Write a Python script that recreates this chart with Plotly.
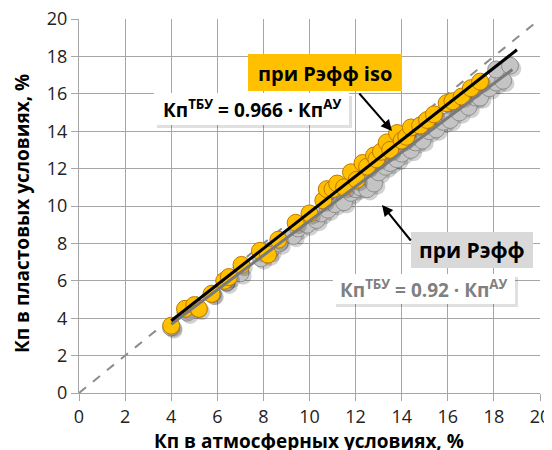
import plotly.graph_objects as go

# ---- data ----
iso_x = [4.0, 4.6, 5.0, 5.2, 5.75, 6.3, 6.5, 7.05, 7.85, 8.2, 8.65, 9.4, 10.0, 10.6, 10.75,
         11.0, 11.2, 11.5, 11.8, 12.05, 12.3, 12.5, 12.8, 12.9, 13.1, 13.35, 13.5, 13.8, 14.0,
         14.2, 14.4, 14.8, 15.1, 15.4, 15.95, 16.2, 16.6, 17.0, 17.4]
iso_y = [3.6, 4.5, 4.7, 4.5, 5.3, 6.0, 6.2, 6.85, 7.6, 7.4, 8.2, 9.1, 9.6, 10.3, 10.9,
         10.9, 11.2, 11.0, 11.8, 11.4, 12.3, 12.1, 12.7, 12.5, 12.9, 13.4, 13.0, 13.9, 13.5,
         13.7, 14.2, 14.3, 14.6, 14.9, 15.5, 15.6, 15.85, 16.3, 16.65]

eff_x = [4.0, 4.7, 5.1, 5.8, 6.4, 7.0, 7.9, 8.3, 8.7, 9.3, 9.5, 9.9, 10.3, 10.5, 10.8, 11.1,
         11.5, 11.8, 12.0, 12.2, 12.5, 12.6, 12.8, 13.0, 13.3, 13.5, 13.8, 14.0, 14.4, 14.6,
         14.9, 15.2, 15.5, 15.8, 16.1, 16.5, 16.9, 17.2, 17.4, 17.8, 18.1, 18.4, 18.1, 18.7]
eff_y = [3.5, 4.3, 4.6, 5.3, 5.9, 6.4, 7.2, 7.6, 8.0, 8.4, 8.8, 9.0, 9.25, 9.6, 9.8, 10.1,
         10.2, 10.7, 10.9, 11.0, 10.9, 11.5, 11.2, 11.8, 12.1, 12.3, 12.5, 12.8, 13.0, 13.4,
         13.5, 14.0, 14.1, 14.5, 14.6, 15.0, 15.3, 15.8, 15.8, 16.3, 16.6, 16.7, 17.3, 17.5]

slope_iso = 0.966
slope_eff = 0.92
trend_iso_x = [4.0, 19.0]
trend_eff_x = [4.0, 18.8]
one_to_one = [0, 20]
ticks = list(range(0, 21, 2))

x_title = "Кп в атмосферных условиях, %"
y_title = "Кп в пластовых условиях, %"

fig = go.Figure()

fig.add_trace(go.Scatter(x=one_to_one, y=one_to_one, mode="lines",
                         line=dict(color="#8C8C8C", width=2, dash="dash"),
                         hoverinfo="skip", showlegend=False))

fig.add_trace(go.Scatter(x=[v + 0.12 for v in eff_x], y=[v - 0.15 for v in eff_y], mode="markers",
                         marker=dict(size=17, color="rgba(0,0,0,0.18)", line=dict(width=0)),
                         hoverinfo="skip", showlegend=False))
fig.add_trace(go.Scatter(x=eff_x, y=eff_y, mode="markers",
                         marker=dict(size=17, color="#C4C4C4", line=dict(color="#8F8F8F", width=1)),
                         name="при Рэфф", showlegend=False))
fig.add_trace(go.Scatter(x=[v + 0.12 for v in iso_x], y=[v - 0.15 for v in iso_y], mode="markers",
                         marker=dict(size=17, color="rgba(0,0,0,0.18)", line=dict(width=0)),
                         hoverinfo="skip", showlegend=False))
fig.add_trace(go.Scatter(x=iso_x, y=iso_y, mode="markers",
                         marker=dict(size=17, color="#FFC000", line=dict(color="#C07800", width=1)),
                         name="при Рэфф iso", showlegend=False))

fig.add_trace(go.Scatter(x=trend_eff_x, y=[slope_eff * v for v in trend_eff_x], mode="lines",
                         line=dict(color="#7A7A7A", width=3), hoverinfo="skip", showlegend=False))
fig.add_trace(go.Scatter(x=trend_iso_x, y=[slope_iso * v for v in trend_iso_x], mode="lines",
                         line=dict(color="#000000", width=3), hoverinfo="skip", showlegend=False))

FONT = "Open Sans, Noto Sans, DejaVu Sans, sans-serif"
OFF = 8  # page body margin
W, H = 552 - OFF, 450 - OFF
L, R, T, B = 79 - OFF, 540 - OFF, 19 - OFF, 393 - OFF

def px(xp):
    return (xp - OFF - L) / float(R - L)

def py(yp):
    return (B - (yp - OFF)) / float(B - T)

annotations = []
shapes = []

def box(x0, y0, x1, y1, color, shadow=False):
    if shadow:
        shapes.append(dict(type="rect", xref="paper", yref="paper",
                           x0=px(x0 + 3), x1=px(x1 + 3), y0=py(y0 + 3), y1=py(y1 + 3),
                           fillcolor="rgba(0,0,0,0.12)", line=dict(width=0), layer="above"))
    shapes.append(dict(type="rect", xref="paper", yref="paper",
                       x0=px(x0), x1=px(x1), y0=py(y0), y1=py(y1),
                       fillcolor=color, line=dict(width=0), layer="above"))

box(248, 54, 402, 91, "#FFC000")
box(154, 93, 349, 125, "#FFFFFF", shadow=True)
box(411, 232, 533, 268, "#D9D9D9")
box(333, 274, 515, 304, "#FFFFFF", shadow=True)

def label(xp, yp, text, size, color, angle=0):
    annotations.append(dict(xref="paper", yref="paper", x=px(xp), y=py(yp), showarrow=False,
                            xanchor="center", yanchor="middle", textangle=angle,
                            text=text, font=dict(family=FONT, size=size, color=color)))

label(325, 73, "<b>при Рэфф iso</b>", 20, "#000000")
label(251.5, 109, "<b>Кп<sup>ТБУ</sup> = 0.966 · Кп<sup>АУ</sup></b>", 19, "#000000")
label(472, 250, "<b>при Рэфф</b>", 21, "#000000")
label(424, 289, "<b>Кп<sup>ТБУ</sup> = 0.92 · Кп<sup>АУ</sup></b>", 19, "#808080")
label(309, 441, "<b>" + x_title + "</b>", 19, "#000000")
label(22, 214, "<b>" + y_title + "</b>", 19, "#000000", angle=-90)

annotations.append(dict(xref="paper", yref="paper", x=px(392), y=py(131), ax=-34, ay=-39,
                        text="", showarrow=True, arrowhead=2, arrowsize=1.1, arrowwidth=2,
                        arrowcolor="#000000"))
annotations.append(dict(xref="paper", yref="paper", x=px(382), y=py(205), ax=30, ay=37,
                        text="", showarrow=True, arrowhead=2, arrowsize=1.1, arrowwidth=2,
                        arrowcolor="#000000"))

axis_common = dict(range=[0, 20], tickvals=ticks, showgrid=True, gridcolor="#A6A6A6", gridwidth=1.3,
                   showline=True, linecolor="#A6A6A6", linewidth=1.3, ticks="outside",
                   ticklen=7, tickcolor="#A6A6A6", tickwidth=1.3, zeroline=False, automargin=False,
                   ticklabeloverflow="allow",
                   tickfont=dict(family=FONT, size=18, color="#222222"), fixedrange=True)

fig.update_layout(
    width=W, height=H,
    margin=dict(l=L, r=W - R, t=T, b=H - B, autoexpand=False),
    paper_bgcolor="white", plot_bgcolor="white",
    xaxis=dict(**axis_common),
    yaxis=dict(**axis_common),
    annotations=annotations,
    shapes=shapes,
)

fig.write_html("out.html")
